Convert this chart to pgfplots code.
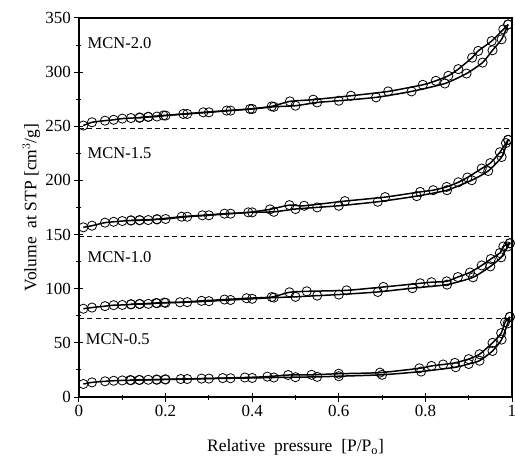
\documentclass[border=0pt]{standalone}
\usepackage{fontspec}
\setmainfont{Liberation Serif}
\usepackage{pgfplots}
\pgfplotsset{compat=1.18}
\pgfplotsset{iso/.style={black, line width=1.5pt, smooth, tension=0.35, mark=o, mark size=4.6pt, mark options={line width=0.8pt, solid, black}}}
\begin{document}
\begin{tikzpicture}
\path[use as bounding box] (0,0) rectangle (515pt,459pt);
\begin{axis}[
  at={(79pt,62pt)}, anchor=south west,
  scale only axis, width=433pt, height=379pt,
  xmin=0, xmax=1, ymin=0, ymax=350,
  xtick={0,0.2,0.4,0.6,0.8,1}, minor xtick={0.1,0.3,0.5,0.7,0.9},
  xticklabels={0,0.2,0.4,0.6,0.8,1},
  ytick={0,50,...,350}, minor ytick={25,75,...,325},
  tick align=center,
  major tick length=9pt, minor tick length=5pt,
  every tick/.style={black, line width=1pt},
  xtick pos=bottom, ytick pos=left,
  axis line style={line width=1.6pt},
  /pgf/number format/assume math mode=true,
  tick label style={font=\fontsize{17}{20}\selectfont},
  xlabel={Relative\ \ pressure\ \ [P/P$_{\mathrm{o}}$]},
  ylabel={Volume\ \ at STP [cm$^{3}$/g]},
  xlabel style={at={(axis description cs:0.5,-0.133)}, anchor=center, font=\fontsize{17.5}{20}\selectfont},
  ylabel style={at={(axis description cs:-0.11,0.5)}, anchor=center, rotate=0, font=\fontsize{17.5}{20}\selectfont},
  clip=false,
]
% dashed separators
\addplot[black, line width=0.8pt, dash pattern=on 5pt off 3.5pt, forget plot] coordinates {(0,73) (1,73)};
\addplot[black, line width=0.8pt, dash pattern=on 5pt off 3.5pt, forget plot] coordinates {(0,148) (1,148)};
\addplot[black, line width=0.8pt, dash pattern=on 5pt off 3.5pt, forget plot] coordinates {(0,248) (1,248)};

% MCN-0.5
\addplot[iso] coordinates {(0.01,12.0) (0.03,13.5) (0.06,14.5) (0.08,15.0) (0.10,15.3) (0.12,15.5) (0.14,15.7) (0.16,15.9) (0.18,16.0) (0.20,16.2) (0.25,16.6) (0.30,17.0) (0.35,17.3) (0.40,17.6) (0.45,18.0) (0.50,18.3) (0.55,18.6) (0.60,19.2) (0.70,20.5) (0.79,23.5) (0.87,27.5) (0.90,30.5) (0.925,33.5) (0.955,42.5) (0.976,53) (0.99,68) (0.995,74)};
\addplot[iso] coordinates {(0.995,74) (0.984,69) (0.975,59) (0.955,50) (0.925,39.5) (0.90,35) (0.868,31.5) (0.841,30) (0.814,28.7) (0.786,26.5) (0.695,22.5) (0.60,21.5) (0.537,20.5) (0.483,20.3) (0.435,18.8) (0.383,18.0) (0.332,17.5) (0.283,17.0) (0.235,16.6) (0.199,16.3) (0.179,16.1) (0.139,15.8) (0.118,15.6)};

% MCN-1.0
\addplot[iso] coordinates {(0.01,81.5) (0.03,82.6) (0.06,83.9) (0.08,84.8) (0.10,85.0) (0.12,85.5) (0.14,85.8) (0.16,86.0) (0.18,86.6) (0.20,87.0) (0.25,87.6) (0.30,88.5) (0.35,89.6) (0.40,90.7) (0.45,91.8) (0.50,92.5) (0.55,93.6) (0.60,94.6) (0.69,97.0) (0.77,100.5) (0.85,103.8) (0.91,110.5) (0.95,120.6) (0.975,129) (0.99,139) (0.995,142)};
\addplot[iso] coordinates {(0.995,142) (0.98,139) (0.972,133) (0.951,127.4) (0.93,121.5) (0.903,115) (0.875,110.8) (0.849,106.8) (0.814,106.0) (0.788,105) (0.703,101.6) (0.618,98.5) (0.526,97.6) (0.486,96.7) (0.445,92.3) (0.387,91.2) (0.336,90.0) (0.283,88.8) (0.233,87.5) (0.197,87.2) (0.178,86.8) (0.14,86.0) (0.12,85.7)};

% MCN-1.5
\addplot[iso] coordinates {(0.01,156.7) (0.03,158.2) (0.06,161.0) (0.08,161.8) (0.10,162.5) (0.12,163.0) (0.14,163.2) (0.16,163.4) (0.18,164.0) (0.20,164.4) (0.25,166.5) (0.30,167.8) (0.35,169.3) (0.40,170.5) (0.45,171.0) (0.50,173.6) (0.55,175.1) (0.60,176.6) (0.69,180.3) (0.78,185.5) (0.85,191.0) (0.907,200.2) (0.945,208.7) (0.976,221.6) (0.991,237.5)};
\addplot[iso] coordinates {(0.991,237.5) (0.986,234.5) (0.972,226) (0.95,216) (0.93,211) (0.897,202.7) (0.876,198.3) (0.849,194) (0.818,191) (0.788,189.4) (0.707,184.6) (0.614,180.9) (0.52,176.6) (0.486,177.2) (0.441,173.3) (0.391,170.5) (0.336,169.3) (0.285,167.8) (0.237,166.5) (0.18,164.2) (0.14,163.4) (0.12,163.1)};

% MCN-2.0
\addplot[iso] coordinates {(0.01,250.7) (0.03,253.7) (0.06,255.2) (0.08,256.0) (0.10,257.1) (0.12,257.6) (0.14,257.8) (0.16,258.6) (0.18,259.0) (0.20,259.9) (0.25,261.4) (0.30,262.9) (0.35,264.5) (0.40,266.0) (0.45,268.0) (0.50,269.0) (0.55,272.0) (0.60,273.6) (0.686,276.7) (0.768,282.2) (0.845,289.5) (0.895,298.7) (0.932,308.8) (0.955,320.2) (0.976,330.3) (0.991,344)};
\addplot[iso] coordinates {(0.991,344) (0.98,339.5) (0.953,328.7) (0.922,319.6) (0.908,313.4) (0.876,302.8) (0.853,296.6) (0.824,292) (0.794,288.3) (0.714,282.2) (0.628,278.2) (0.541,274.6) (0.487,273) (0.445,268.4) (0.395,266) (0.341,264.5) (0.287,262.9) (0.241,261.4) (0.195,260) (0.16,258.8) (0.14,258.2)};

\node[anchor=west, font=\fontsize{16.5}{19}\selectfont] at (axis cs:0.012,327) {MCN-2.0};
\node[anchor=west, font=\fontsize{16.5}{19}\selectfont] at (axis cs:0.012,225) {MCN-1.5};
\node[anchor=west, font=\fontsize{16.5}{19}\selectfont] at (axis cs:0.012,129.5) {MCN-1.0};
\node[anchor=west, font=\fontsize{16.5}{19}\selectfont] at (axis cs:0.008,53.3) {MCN-0.5};
\end{axis}
\end{tikzpicture}
\end{document}
